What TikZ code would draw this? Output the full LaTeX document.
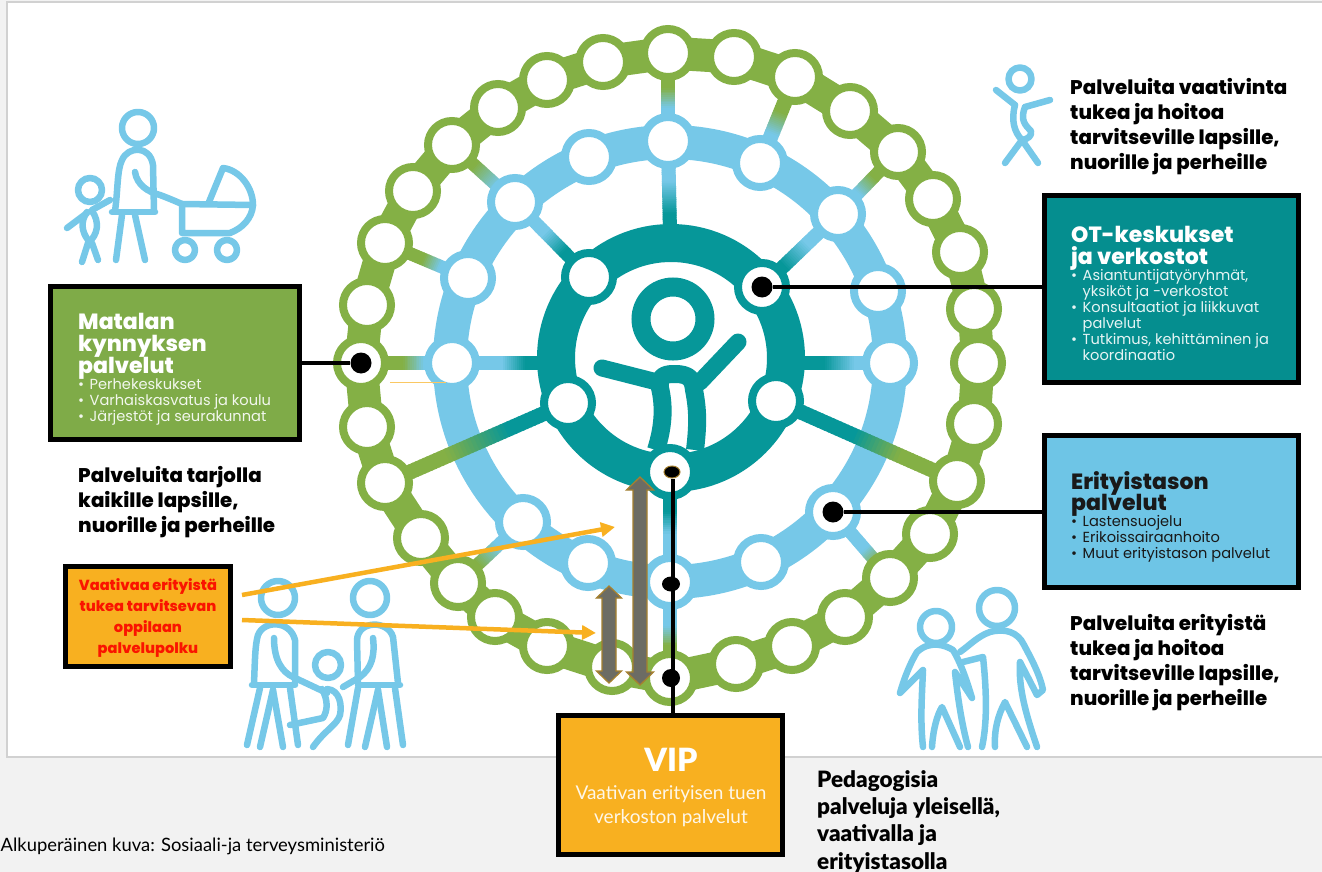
\documentclass[tikz,border=0pt]{standalone}
\usepackage{fontspec}
\setmainfont{Poppins}
\newfontfamily\lato{Lato}
\newfontfamily\latoblack{Lato Black}
\newfontfamily\heavy{Poppins ExtraBold}
\usetikzlibrary{calc,arrows.meta,shapes.geometric}
\definecolor{rgreen}{HTML}{84B045}
\definecolor{rblue}{HTML}{76C8E8}
\definecolor{rteal}{HTML}{069799}
\definecolor{boxgreen}{HTML}{7FAB48}
\definecolor{boxteal}{HTML}{058E8F}
\definecolor{boxblue}{HTML}{6EC5E6}
\definecolor{vorange}{HTML}{F8B020}
\definecolor{gshaft}{HTML}{6C6C64}
\definecolor{gedge}{HTML}{A5802F}
\definecolor{pagebg}{HTML}{F2F2F2}
\pgfdeclarelayer{bg}
\pgfsetlayers{bg,main}
\lineskiplimit=-50pt
\newcommand{\gradspoke}[7]{%
  \foreach \i in {0,...,49}{%
    \pgfmathsetmacro\ta{\i/50}%
    \pgfmathsetmacro\tb{(\i+1.4)/50}%
    \pgfmathtruncatemacro\mixv{max(0,min(100,100*(\ta-#5)/(#6-#5)))}%
    \draw[color=#4!\mixv!#3,line width=#7pt] ($(#1)!\ta!(#2)$) -- ($(#1)!\tb!(#2)$);
  }%
}
\newcommand{\dblarrow}[6]{%
  \draw[fill=gshaft,draw=gedge,line width=1.3pt,line join=miter]
   (#1,#2) -- (#1+#5,#2+#6) -- (#1+#4,#2+#6) -- (#1+#4,#3-#6) -- (#1+#5,#3-#6) --
   (#1,#3) -- (#1-#5,#3-#6) -- (#1-#4,#3-#6) -- (#1-#4,#2+#6) -- (#1-#5,#2+#6) -- cycle;
}
\newcommand{\bul}{\makebox[11.5pt][l]{•}}
\newcommand{\nobul}{\hspace*{11.5pt}}
\newcommand{\hl}[1]{{\heavy\fontsize{22}{22}\selectfont #1}}
\tikzset{
  x=1pt,y=-1pt,
  stopg/.style={circle,fill=white,draw=rgreen,line width=8pt,minimum size=48pt,inner sep=0pt},
  stopb/.style={circle,fill=white,draw=rblue,line width=8pt,minimum size=48pt,inner sep=0pt},
  stopt/.style={circle,fill=white,draw=rteal,line width=8pt,minimum size=48pt,inner sep=0pt},
  dotblack/.style={circle,fill=black,minimum size=21pt,inner sep=0pt},
  leader/.style={black,line width=4pt},
  fig/.style={draw=rblue,line width=6.5pt,line cap=round,line join=round},
  kid/.style={draw=rteal,line width=18pt,line cap=round,line join=round},
  panel/.style={rectangle,draw=black,line width=5pt,inner sep=0pt},
  paneltext/.style={anchor=north west,inner sep=0pt,align=left,font=\fontsize{14.6}{16}\selectfont},
  side/.style={anchor=north west,inner sep=0pt,align=left,black,font=\heavy\fontsize{19.8}{25}\selectfont},
  oarrow/.style={draw=vorange,line width=4.5pt,-{Triangle[length=14pt,width=14pt]}},
}
\begin{document}
\begin{tikzpicture}
\useasboundingbox (0,0) rectangle (1322,872);
\clip (0,0) rectangle (1322,872);

% outer ring stops
\node[stopg] (o1) at (668,53) {};
\node[stopg] (o2) at (734,57) {};
\node[stopg] (o3) at (795,77) {};
\node[stopg] (o4) at (850,111) {};
\node[stopg] (o5) at (898,152) {};
\node[stopg] (o6) at (933,199) {};
\node[stopg] (o7) at (960,252) {};
\node[stopg] (o8) at (974,309) {};
\node[stopg] (o9) at (978,363) {};
\node[stopg] (o10) at (974,424) {};
\node[stopg] (o11) at (957,481) {};
\node[stopg] (o12) at (930,534) {};
\node[stopg] (o13) at (890,578) {};
\node[stopg] (o14) at (845,617) {};
\node[stopg] (o15) at (792,646) {};
\node[stopg] (o16) at (736,664) {};
\node[stopg] (o17) at (670,678) {};
\node[stopg] (o18) at (612,667) {};
\node[stopg] (o19) at (547,646) {};
\node[stopg] (o20) at (495,617) {};
\node[stopg] (o21) at (458,583) {};
\node[stopg] (o22) at (421,538) {};
\node[stopg] (o23) at (385,483) {};
\node[stopg] (o24) at (367,427) {};
\node[stopg] (o25) at (361,363) {};
\node[stopg] (o26) at (367,305) {};
\node[stopg] (o27) at (385,243) {};
\node[stopg] (o28) at (413,191) {};
\node[stopg] (o29) at (452,145) {};
\node[stopg] (o30) at (498,108) {};
\node[stopg] (o31) at (547,80) {};
\node[stopg] (o32) at (603,62) {};

% middle ring stops
\node[stopb] (m1) at (668,141) {};
\node[stopb] (m2) at (760,163) {};
\node[stopb] (m3) at (838,214) {};
\node[stopb] (m4) at (878,291) {};
\node[stopb] (m5) at (890,363) {};
\node[stopb] (m6) at (833,512) {};
\node[stopb] (m7) at (761,562) {};
\node[stopb] (m8) at (670,582) {};
\node[stopb] (m9) at (588,563) {};
\node[stopb] (m10) at (523,522) {};
\node[stopb] (m11) at (452,363) {};
\node[stopb] (m12) at (468,278) {};
\node[stopb] (m13) at (515,202) {};
\node[stopb] (m14) at (589,157) {};

% inner ring stops
\node[stopt] (t1) at (589,277) {};
\node[stopt] (t2) at (762,287) {};
\node[stopt] (t3) at (776,401) {};
\node[stopt] (t4) at (670,472) {};
\node[stopt] (t5) at (568,403) {};
\coordinate (ct) at (671,358);
\coordinate (cm) at (670,362);
\coordinate (ttop) at (670,232);
\coordinate (tleft) at (550,363);
\coordinate (tright) at (800,363);

\begin{pgfonlayer}{bg}
  \fill[pagebg] (0,0) rectangle (1322,872);
  \draw[fill=white,draw=black!18,line width=1.5pt] (7,2) rectangle (1330,757);
  % ring bands
  \foreach \a/\b in {1/2,2/3,3/4,4/5,5/6,6/7,7/8,8/9,9/10,10/11,11/12,12/13,13/14,14/15,15/16,16/17,17/18,18/19,19/20,20/21,21/22,22/23,23/24,24/25,25/26,26/27,27/28,28/29,29/30,30/31,31/32,32/1}
    {\draw[rgreen,line width=33pt] (o\a.center) -- (o\b.center);}
  \draw[rblue,line width=34pt] (cm) circle[radius=220pt];
  \draw[rteal,line width=38pt] (ct) circle[radius=115pt];
  % spokes
  \gradspoke{o1}{m1}{rgreen}{rblue}{.39}{.61}{14}
  \gradspoke{m1}{ttop}{rblue}{rteal}{.43}{.79}{14}
  \gradspoke{o29}{m13}{rgreen}{rblue}{.35}{.7}{13}
  \gradspoke{m13}{t1}{rblue}{rteal}{.4}{.65}{13}
  \gradspoke{o27}{m12}{rgreen}{rblue}{.45}{.65}{13}
  \gradspoke{o3}{m2}{rgreen}{rblue}{.4}{.65}{15}
  \gradspoke{o5}{m3}{rgreen}{rblue}{.4}{.65}{13}
  \gradspoke{m3}{t2}{rblue}{rteal}{.4}{.7}{14}
  \gradspoke{tright}{m5}{rteal}{rblue}{.26}{.6}{14}
  \gradspoke{o25}{m11}{rgreen}{rblue}{.45}{.68}{14}
  \gradspoke{m11}{tleft}{rblue}{rteal}{.5}{.73}{14}
  \gradspoke{o23}{t5}{rgreen}{rteal}{.33}{.66}{15}
  \gradspoke{t3}{o11}{rteal}{rgreen}{.42}{.67}{15}
  \gradspoke{o21}{m10}{rgreen}{rblue}{.3}{.6}{13}
  \gradspoke{m6}{o13}{rblue}{rgreen}{.55}{.75}{13}
  \gradspoke{t4}{m8}{rteal}{rblue}{.35}{.55}{14}
  \gradspoke{m8}{o17}{rblue}{rgreen}{.45}{.65}{14}
\end{pgfonlayer}

% central child
\draw[rteal,line width=19pt] (673,319) circle[radius=32pt];
\draw[kid,line width=17pt] (602,368) -- (657,382);
\draw[kid,line width=17pt] (738,342) -- (700,382);
\draw[kid,line cap=butt] (656,450) .. controls (664,425) and (664,405) .. (660,388)
  .. controls (658,374) and (668,374) .. (675,374)
  .. controls (690,374) and (693,380) .. (694,390)
  .. controls (698,410) and (698,425) .. (695,450);

% mother with pram
\draw[fig] (138,128) circle[radius=16pt];
\draw[fig] (112,212) -- (155,212);
\draw[fig] (115,211) .. controls (118,190) and (117,170) .. (122,160) .. controls (128,146) and (150,145) .. (153,165) -- (154,211);
\draw[fig] (135,172) .. controls (137,185) and (148,192) .. (160,195) .. controls (168,198) and (175,201) .. (182,204);
\draw[fig] (122,215) -- (116,260);
\draw[fig] (135,215) -- (145,260);
\draw[fig] (182,204) -- (253,205);
\draw[fig] (182,204) -- (182,233) -- (230,233) .. controls (243,228) and (252,218) .. (253,205);
\draw[fig] (209,202) -- (223,168) .. controls (240,170) and (253,188) .. (253,205);
\draw[fig] (185,250) circle[radius=10pt];
\draw[fig] (227,250) circle[radius=10pt];
\draw[fig] (90,190) circle[radius=12pt];
\draw[fig] (92,210) -- (110,200);
\draw[fig] (67,228) -- (87,213);
\draw[fig] (87,212) .. controls (80,222) and (82,232) .. (88,240);
\draw[fig] (92,211) .. controls (100,222) and (98,235) .. (88,243);
\draw[fig] (88,243) -- (82,262);
\draw[fig] (92,243) -- (98,260);

% child top right
\draw[fig] (1020,79) circle[radius=11.5pt];
\draw[fig] (996,90) -- (1015,105);
\draw[fig] (1050,100) -- (1025,107);
\draw[fig] (1015,105) .. controls (1011,120) and (1014,132) .. (1022,140);
\draw[fig] (1025,107) .. controls (1020,120) and (1025,125) .. (1031,131) .. controls (1032,136) and (1028,139) .. (1022,140);
\draw[fig] (1022,140) -- (1005,163);
\draw[fig] (1022,140) -- (1038,163);

% family bottom left
\draw[fig] (278,598) circle[radius=17pt];
\draw[fig] (252,685) -- (295,685);
\draw[fig] (254,683) .. controls (255,660) and (255,645) .. (258,635) .. controls (264,620) and (290,620) .. (295,640) -- (295,683);
\draw[fig] (274,638) .. controls (274,660) and (282,672) .. (293,677) -- (327,693);
\draw[fig] (260,688) -- (247,745);
\draw[fig] (273,690) -- (260,747);
\draw[fig] (273,690) -- (283,747);
\draw[fig] (290,688) -- (298,745);
\draw[fig] (370,598) circle[radius=17pt];
\draw[fig] (358,685) -- (400,685);
\draw[fig] (358,683) -- (357,640) .. controls (358,620) and (388,620) .. (393,637) -- (398,683);
\draw[fig] (373,638) .. controls (375,655) and (372,668) .. (360,677) -- (343,687);
\draw[fig] (358,688) -- (348,745);
\draw[fig] (378,690) -- (365,747);
\draw[fig] (378,690) -- (387,747);
\draw[fig] (395,688) -- (403,745);
\draw[fig] (328,665) circle[radius=13pt];
\draw[fig] (327,689) .. controls (340,690) and (342,705) .. (340,715) .. controls (337,725) and (325,730) .. (313,747);
\draw[fig] (322,689) .. controls (328,700) and (328,710) .. (323,718) -- (290,725);

% couple bottom right
\draw[fig] (936,627) circle[radius=16pt];
\draw[fig] (997,608) circle[radius=18pt];
\draw[fig] (923,747) .. controls (920,720) and (922,695) .. (923,670) -- (900,693) .. controls (905,675) and (912,660) .. (917,652) .. controls (930,640) and (945,645) .. (953,650) .. controls (962,665) and (968,685) .. (972,698) -- (955,672) .. controls (958,700) and (962,725) .. (968,747);
\draw[fig] (932,747) .. controls (933,730) and (937,715) .. (942,707) -- (960,747);
\draw[fig] (960,652) .. controls (970,645) and (978,636) .. (990,632) .. controls (1005,628) and (1018,632) .. (1024,645) .. controls (1032,660) and (1040,675) .. (1043,690) -- (1037,695) -- (1020,662) .. controls (1018,690) and (1028,720) .. (1037,747);
\draw[fig] (995,747) .. controls (994,730) and (998,715) .. (1005,702) -- (1027,747);
\draw[fig] (982,747) .. controls (988,720) and (986,685) .. (983,657) -- (963,662);

% panels
\node[panel,fill=boxgreen,minimum width=249pt,minimum height=153pt] (pm) at (175,363) {};
\node[panel,fill=boxteal,minimum width=254pt,minimum height=187pt] (pot) at (1171.5,289) {};
\node[panel,fill=boxblue,minimum width=254pt,minimum height=152pt] (per) at (1171.5,511.5) {};
\node[panel,fill=vorange,minimum width=224pt,minimum height=139pt] (pv) at (670.5,785) {};
\node[panel,fill=vorange,minimum width=165pt,minimum height=100pt] (po) at (148,616.5) {};

% panel texts
\node[paneltext,text=white!90!boxgreen] (hm) at (78,313) {\hl{\color{white}Matalan}\\[6pt]\hl{\color{white}kynnyksen}\\[6pt]\hl{\color{white}palvelut}\\[0pt]\bul Perhekeskukset\\\bul Varhaiskasvatus ja koulu\\\bul Järjestöt ja seurakunnat};
\node[paneltext,text=white!90!boxteal] (hot) at (1071,226) {\hl{\color{white}OT-keskukset}\\[6pt]\hl{\color{white}ja verkostot}\\[0pt]\bul Asiantuntijatyöryhmät,\\\nobul yksiköt ja -verkostot\\\bul Konsultaatiot ja liikkuvat\\\nobul palvelut\\\bul Tutkimus, kehittäminen ja\\\nobul koordinaatio};
\node[paneltext,text=black!90] (her) at (1071,471) {\hl{Erityistason}\\[5.5pt]\hl{palvelut}\\[0pt]\bul Lastensuojelu\\\bul Erikoissairaanhoito\\\bul Muut erityistason palvelut};
\node[anchor=center,inner sep=0pt,white,font=\latoblack\fontsize{32}{32}\selectfont] (tv) at (671,760) {VIP};
\node[anchor=center,inner sep=0pt,align=center,white!90!vorange,font=\lato\fontsize{19}{24}\selectfont] (tv2) at (671,806) {Vaativan erityisen tuen\\verkoston palvelut};
\node[anchor=center,inner sep=0pt,align=center,text={rgb,255:red,250;green,20;blue,0},font=\heavy\fontsize{14.6}{21.3}\selectfont] (to) at (148,618) {Vaativaa erityistä\\tukea tarvitsevan\\oppilaan\\palvelupolku};

% side texts
\node[side] (s1) at (1070,78) {Palveluita vaativinta\\tukea ja hoitoa\\tarvitseville lapsille,\\nuorille ja perheille};
\node[side] (s2) at (78,466) {Palveluita tarjolla\\kaikille lapsille,\\nuorille ja perheille};
\node[side] (s3) at (1070,614) {Palveluita erityistä\\tukea ja hoitoa\\tarvitseville lapsille,\\nuorille ja perheille};
\node[anchor=north west,inner sep=0pt,align=left,font=\latoblack\fontsize{22.5}{27.4}\selectfont] (s4) at (817,770) {Pedagogisia\\palveluja yleisellä,\\vaativalla ja\\erityistasolla};
\node[anchor=west,inner sep=0pt,font=\lato\fontsize{18.4}{20}\selectfont] (cap) at (0.5,846) {Alkuperäinen kuva: Sosiaali-ja terveysministeriö};

% leader lines and dots
\node[dotblack] (d1) at (o25) {};
\node[dotblack] (d2) at (t2) {};
\node[dotblack] (d3) at (m6) {};
\node[ellipse,fill=black,draw=gedge,line width=1pt,minimum width=16pt,minimum height=12pt,inner sep=0pt] (d4) at (672,472) {};
\node[ellipse,fill=black,minimum width=18pt,minimum height=15pt,inner sep=0pt] (d5) at (671,584) {};
\node[circle,fill=black,minimum size=18pt,inner sep=0pt] (d6) at (671,678) {};
\draw[leader] (d1) -- (pm.east |- d1);
\draw[leader] (d2) -- (pot.west |- d2);
\draw[leader] (d3) -- (per.west |- d3);
\draw[leader] (d4.south -| 673,0) -- (673,713);

% faint line
\coordinate (fa) at (390,382);
\coordinate (fb) at (446,382);
\draw[vorange!70,line width=1pt] (fa) -- (fb);

% double arrows
\dblarrow{640}{477}{685}{7}{13.5}{13}
\dblarrow{609}{586}{683}{7}{12.5}{12}

% orange arrows
\coordinate (a1s) at (242,595);
\coordinate (a1e) at (615,527);
\coordinate (a2s) at (242,620);
\coordinate (a2e) at (596,633);
\draw[oarrow] (a1s) -- (a1e);
\draw[oarrow] (a2s) -- (a2e);
\end{tikzpicture}
\end{document}
